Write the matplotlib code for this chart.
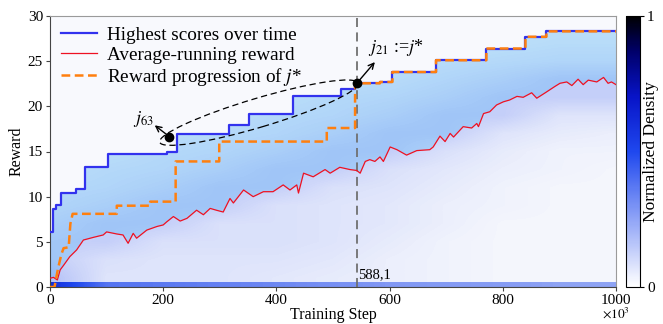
import numpy as np
import matplotlib
matplotlib.use('Agg')
import matplotlib.pyplot as plt
from matplotlib.colors import LinearSegmentedColormap, Normalize
from matplotlib.cm import ScalarMappable
from matplotlib.patches import Ellipse
from matplotlib.transforms import ScaledTranslation

FONT_NAME = 'Liberation Serif'
TICK_FONT_SIZE = 11
LABEL_FONT_SIZE = 11.5
LEGEND_FONT_SIZE = 13.8
plt.rcParams['font.family'] = FONT_NAME
plt.rcParams['mathtext.fontset'] = 'stix'

BLUE = '#3232ee'
RED = '#ee1122'
ORANGE = '#ff7f0e'
CYAN = '#c8ecfb'

# highest score so far (step, post)
BLUE_X = [0, 5, 11, 20, 46, 62, 103, 206, 224, 317, 352, 377, 430, 514, 539, 583, 605, 682, 771, 840, 877, 1000]
BLUE_Y = [6.1, 8.6, 9.1, 10.45, 10.85, 13.3, 14.7, 15.0, 16.9, 17.9, 19.1, 19.2, 21.1, 21.9, 22.55, 22.7, 23.8, 25.1, 26.4, 27.7, 28.3, 28.3]

# reward progression of j*
ORANGE_X = [0, 8, 14, 20, 24, 33, 36, 40, 118, 118, 177, 177, 222, 222, 299, 299, 489, 489, 539, 539,
            583, 583, 605, 605, 682, 682, 771, 771, 840, 840, 877, 877, 1000]
ORANGE_Y = [0, 0, 2.0, 3.6, 4.3, 4.4, 7.0, 8.1, 8.1, 9.0, 9.0, 9.45, 9.45, 13.9, 13.9, 16.1, 16.1, 17.6, 17.6, 22.55,
            22.55, 22.7, 22.7, 23.8, 23.8, 25.1, 25.1, 26.4, 26.4, 27.7, 27.7, 28.3, 28.3]

# average-running reward
AVG_X = [0, 6, 13, 18, 24, 35, 47, 59, 77, 94, 100, 118, 129, 138, 147, 153, 171, 189, 200, 206,
         218, 230, 242, 259, 271, 283, 294, 306, 318, 324, 342, 359, 377, 394, 412, 424, 436, 439, 448, 465,
         486, 495, 512, 530, 542, 548, 557, 565, 574, 583, 589, 601, 613, 630, 648, 671, 677, 689, 698, 707,
         713, 730, 745, 754, 757, 766, 777, 789, 801, 812, 825, 836, 851, 860, 875, 892, 901, 913, 922, 933,
         942, 951, 966, 978, 986, 992, 1000]
AVG_Y = [0.96, 1.07, 0.78, 1.9, 2.4, 3.36, 4.1, 5.2, 5.5, 5.76, 6.1, 5.87, 5.76, 4.84, 5.94, 5.4, 6.3, 6.7, 6.87, 7.2,
         7.8, 7.3, 7.6, 8.5, 8.0, 8.7, 8.5, 8.3, 9.8, 9.3, 10.74, 10.0, 10.55, 10.55, 11.3, 10.74, 11.3, 10.4, 12.6, 12.2,
         13.0, 12.6, 13.25, 13.0, 12.9, 12.6, 13.9, 14.1, 13.9, 14.4, 13.9, 15.5, 15.2, 14.6, 15.1, 15.2, 15.5, 16.7, 16.1, 17.0,
         16.6, 17.75, 17.6, 18.1, 17.75, 19.2, 19.4, 20.15, 20.5, 20.7, 21.1, 21.0, 21.5, 20.9, 21.5, 22.2, 22.55, 22.7, 22.3, 23.0,
         22.4, 22.9, 22.7, 23.2, 22.55, 22.7, 22.4]

# density grid: columns at steps 0,100,...,1000; rows reward 29,27,...,1 (top to bottom)
DENSITY = [
    [.03, .03, .03, .03, .03, .03, .03, .03, .03, .04, .04],
    [.03, .03, .03, .03, .03, .03, .03, .03, .04, .05, .05],
    [.03, .03, .03, .03, .03, .03, .04, .05, .06, .07, .07],
    [.03, .03, .03, .03, .03, .04, .05, .07, .09, .12, .12],
    [.03, .03, .03, .03, .04, .06, .07, .09, .12, .12, .12],
    [.03, .03, .03, .04, .06, .07, .09, .12, .12, .06, .06],
    [.03, .03, .04, .06, .07, .09, .12, .12, .06, .04, .03],
    [.03, .04, .06, .07, .09, .12, .12, .07, .04, .02, .02],
    [.04, .06, .07, .09, .12, .12, .07, .05, .03, .02, .01],
    [.06, .07, .09, .12, .12, .07, .06, .04, .02, .01, .01],
    [.07, .09, .12, .12, .07, .06, .05, .03, .02, .01, .01],
    [.09, .12, .12, .07, .07, .06, .05, .03, .01, .01, .01],
    [.11, .12, .07, .07, .07, .06, .04, .02, .01, .01, .01],
    [.12, .07, .06, .06, .06, .05, .03, .02, .01, .01, .01],
    [.16, .06, .06, .06, .05, .04, .03, .02, .01, .01, .01],
]
# reward ~0 strip along the bottom
DENSITY_ZERO = [.60, .36, .34, .32, .30, .28, .26, .26, .26, .24, .24]

X_TICKS = [0, 200, 400, 600, 800, 1000]
Y_TICKS = [0, 5, 10, 15, 20, 25, 30]

J_STAR = (542, 22.55)
J_63 = (210.8, 16.65)


def step_vertices(xs, ys):
    vx, vy = [], []
    for i in range(len(xs) - 1):
        vx += [xs[i], xs[i + 1]]
        vy += [ys[i], ys[i]]
    return np.array(vx), np.array(vy)


def main():
    fig = plt.figure(figsize=(6.63, 3.24), dpi=100)
    ax = fig.add_axes([50 / 663, 37 / 324, 566 / 663, 271 / 324])
    cax = fig.add_axes([626 / 663, 37 / 324, 14 / 663, 271 / 324])
    ax.set_facecolor('#f8f9fd')

    cmap = LinearSegmentedColormap.from_list(
        'dens', [(0, 'white'), (0.5, '#1f48ee'), (0.7, '#0814c8'), (0.87, '#00006a'), (1, 'black')])
    cmap_a = LinearSegmentedColormap.from_list(
        'dens_a', [(0, (0.12, 0.28, 0.93, 0)), (0.5, (0.12, 0.28, 0.93, 1)), (0.7, '#0814c8'),
                   (0.87, '#00006a'), (1, 'black')])

    ux, uy = step_vertices(BLUE_X, BLUE_Y)
    # light region between average and best
    ax.fill(np.concatenate([ux, AVG_X[::-1]]), np.concatenate([uy, AVG_Y[::-1]]),
            color=CYAN, lw=0, zorder=1)
    clip = ax.fill(np.concatenate([ux, [1000, 0]]), np.concatenate([uy, [0, 0]]),
                   color='none', lw=0, zorder=0)[0]

    im = ax.imshow(np.array(DENSITY), cmap=cmap_a, vmin=0, vmax=1, extent=(-50, 1050, 0, 30),
                   origin='upper', aspect='auto', interpolation='bilinear', zorder=2)
    im.set_clip_path(clip)
    ax.imshow(np.array([DENSITY_ZERO]), cmap=cmap_a, vmin=0, vmax=1, extent=(-50, 1050, 0, 0.45),
              origin='upper', aspect='auto', interpolation='bilinear', zorder=2)

    ax.axvline(J_STAR[0], color='#707070', lw=1.3, ls=(0, (5, 3)), zorder=3)
    ax.text(J_STAR[0] + 3, 1.0, '588,1', fontsize=TICK_FONT_SIZE - 0.5, ha='left', va='baseline', zorder=6)

    l1, = ax.plot(BLUE_X, BLUE_Y, color=BLUE, lw=1.6, drawstyle='steps-post', zorder=4)
    l2, = ax.plot(AVG_X, AVG_Y, color=RED, lw=0.9, zorder=4)
    l3, = ax.plot(ORANGE_X, ORANGE_Y, color=ORANGE, lw=1.8, ls=(0, (3.5, 1.8)), zorder=5)

    # lens between j_63 and j*
    ell = Ellipse((0, 0), width=2.07, height=0.29, angle=16.6, fill=False, color='black', lw=0.9,
                  ls=(0, (5, 3)), zorder=6,
                  transform=fig.dpi_scale_trans + ScaledTranslation(369, 19.3, ax.transData))
    ax.add_patch(ell)

    ax.plot(*J_STAR, 'o', color='black', ms=6, zorder=7)
    ax.plot(*J_63, 'o', color='black', ms=6, zorder=7)
    ax.annotate('', xy=(574, 24.9), xytext=J_STAR, zorder=7,
                arrowprops=dict(arrowstyle='->', lw=1.0, color='black', shrinkA=0, shrinkB=0))
    ax.annotate('', xy=(185, 17.9), xytext=J_63, zorder=7,
                arrowprops=dict(arrowstyle='->', lw=1.0, color='black', shrinkA=0, shrinkB=0))
    ax.text(562, 25.3, r'$j_{21}$ :=$j$*', fontsize=13, ha='left', va='bottom', zorder=7)
    ax.text(183, 17.5, r'$j_{63}$', fontsize=13, ha='right', va='bottom', zorder=7)

    ax.set_xlim(0, 1000)
    ax.set_ylim(0, 30)
    ax.set_xticks(X_TICKS)
    ax.set_yticks(Y_TICKS)
    ax.tick_params(direction='out', length=3, width=0.8, colors='#444444', labelsize=TICK_FONT_SIZE,
                   labelcolor='black', pad=2)
    for s in ['top', 'right']:
        ax.spines[s].set_color('#9a9a9a')
    for s in ['left', 'bottom']:
        ax.spines[s].set_color('#444444')
    ax.set_xlabel('Training Step', fontsize=LABEL_FONT_SIZE, labelpad=0)
    ax.set_ylabel('Reward', fontsize=LABEL_FONT_SIZE, labelpad=2)
    ax.text(1.0, -0.07, r'$\times 10^3$', transform=ax.transAxes, ha='center', va='top',
            fontsize=TICK_FONT_SIZE - 1.5)

    ax.legend([l1, l2, l3],
              ['Highest scores over time', 'Average-running reward', r'Reward progression of $j$*'],
              loc='upper left', frameon=False, fontsize=LEGEND_FONT_SIZE, handlelength=1.9,
              handletextpad=0.5, labelspacing=0.12, borderaxespad=0.15)

    cb = fig.colorbar(ScalarMappable(norm=Normalize(0, 1), cmap=cmap), cax=cax, ticks=[0, 1])
    cb.outline.set_linewidth(0.8)
    cax.tick_params(length=3, width=0.8, labelsize=TICK_FONT_SIZE, pad=2)
    cax.text(1.8, 0.5, 'Normalized Density', rotation=90, transform=cax.transAxes,
             ha='center', va='center', fontsize=12.5)

    fig.savefig('out.png', dpi=100)


if __name__ == '__main__':
    main()
